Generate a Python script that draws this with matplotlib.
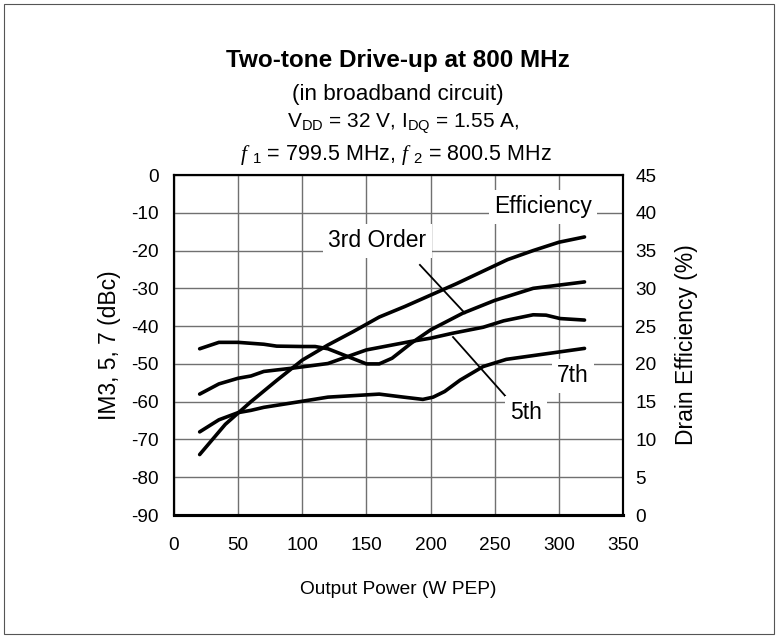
import matplotlib
matplotlib.use('Agg')
import matplotlib.pyplot as plt
from matplotlib.patches import Rectangle

plt.rcParams['font.family'] = ['Liberation Sans', 'DejaVu Sans']
plt.rcParams['mathtext.fontset'] = 'custom'
plt.rcParams['mathtext.rm'] = 'Liberation Sans'
plt.rcParams['mathtext.it'] = 'Liberation Serif:italic'
plt.rcParams['axes.unicode_minus'] = False

# Output power (W PEP) and IM products (dBc)
im3_pout = [20, 35, 50, 70, 80, 100, 110, 120, 135, 150, 160, 170, 185, 200, 225, 250, 280, 320]
im3_dbc = [-46, -44.3, -44.3, -44.8, -45.3, -45.4, -45.4, -46, -48, -50, -50, -48.5, -44.5, -41, -36.6, -33.2, -30, -28.3]

im5_pout = [20, 35, 50, 60, 70, 93, 120, 150, 184, 200, 217, 241, 257, 280, 290, 301, 320]
im5_dbc = [-58, -55.3, -53.8, -53.2, -52, -51.1, -49.9, -46.3, -44.1, -43.2, -41.9, -40.3, -38.6, -37, -37.1, -38, -38.4]

im7_pout = [20, 35, 50, 60, 70, 98, 120, 160, 179, 194, 202, 211, 223, 241, 259, 320]
im7_dbc = [-68, -64.8, -62.9, -62.3, -61.5, -60, -58.8, -58, -58.8, -59.4, -58.8, -57.3, -54.3, -50.7, -48.8, -45.9]

# Drain efficiency (%)
eff_pout = [20, 30, 40, 50, 60, 80, 100, 120, 140, 160, 180, 200, 220, 240, 260, 280, 300, 320]
eff_pct = [8, 10, 12, 13.5, 15, 17.8, 20.5, 22.5, 24.3, 26.2, 27.6, 29.1, 30.6, 32.2, 33.8, 35, 36.1, 36.8]

W, H = 778, 638
fig = plt.figure(figsize=(W / 100, H / 100), dpi=100)
ax = fig.add_axes([174 / W, 1 - 515 / H, 449 / W, 340 / H])
ax2 = ax.twinx()

lw = 2.6
ax.plot(im3_pout, im3_dbc, color='black', lw=lw, solid_capstyle='round')
ax.plot(im5_pout, im5_dbc, color='black', lw=lw, solid_capstyle='round')
ax.plot(im7_pout, im7_dbc, color='black', lw=lw, solid_capstyle='round')
ax2.plot(eff_pout, eff_pct, color='black', lw=lw, solid_capstyle='round')

ax.set_xlim(0, 350)
ax.set_ylim(-90, 0)
ax2.set_ylim(0, 45)
ax.set_xticks(range(0, 351, 50))
ax.set_yticks(range(-90, 1, 10))
ax2.set_yticks(range(0, 46, 5))
ax.grid(True, color='#707070', lw=1)
ax.set_axisbelow(True)
for a in (ax, ax2):
    a.tick_params(length=0, labelsize=13.7)
    for s in a.spines.values():
        s.set_linewidth(1.5)
ax.tick_params(axis='x', pad=16)
ax.tick_params(axis='y', pad=11)
ax2.tick_params(axis='y', pad=9)
ax.spines['bottom'].set_linewidth(2.2)
ax2.spines['bottom'].set_linewidth(2.2)

ax.set_xlabel('Output Power (W PEP)', fontsize=13.8, labelpad=19)
ax.set_ylabel('IM3, 5, 7 (dBc)', fontsize=16.5, labelpad=7)
ax2.set_ylabel('Drain Efficiency (%)', fontsize=16.5, labelpad=13)

box = dict(facecolor='white', edgecolor='none', pad=4)
fs_lab = 16.5
ax.text(287.6, -10.06, 'Efficiency', fontsize=fs_lab, ha='center', va='baseline', bbox=box, zorder=5)
ax.text(158.6, -19.06, '3rd Order', fontsize=fs_lab, ha='center', va='baseline', bbox=box, zorder=5)
ax.text(311, -54.8, '7th', fontsize=fs_lab, ha='center', va='baseline', bbox=box, zorder=5)
ax.text(274.4, -64.6, '5th', fontsize=fs_lab, ha='center', va='baseline', bbox=box, zorder=5)
ax.plot([191.7, 226.8], [-23.8, -36.6], color='black', lw=1.3)
ax.plot([217.5, 258], [-42.9, -58.4], color='black', lw=1.3)

cx = 398 / W
fig.text(cx, 1 - 67 / H, 'Two-tone Drive-up at 800 MHz', fontsize=17.5, fontweight='bold', ha='center', va='baseline')
fig.text(cx, 1 - 100 / H, '(in broadband circuit)', fontsize=16.2, ha='center', va='baseline')
fig.text(403 / W, 1 - 128 / H, r'V$_{\mathrm{DD}}$ = 32 V, I$_{\mathrm{DQ}}$ = 1.55 A,', fontsize=15, ha='center', va='baseline')
fig.text(396 / W, 1 - 160 / H, r'$f$ $_{1}$ = 799.5 MHz, $f$ $_{2}$ = 800.5 MHz', fontsize=15.5, ha='center', va='baseline')

fig.patches.append(Rectangle((4 / W, 4 / H), 770 / W, 630 / H, transform=fig.transFigure,
                             fill=False, edgecolor='#555555', lw=0.8))

fig.savefig('out.png', dpi=100)
